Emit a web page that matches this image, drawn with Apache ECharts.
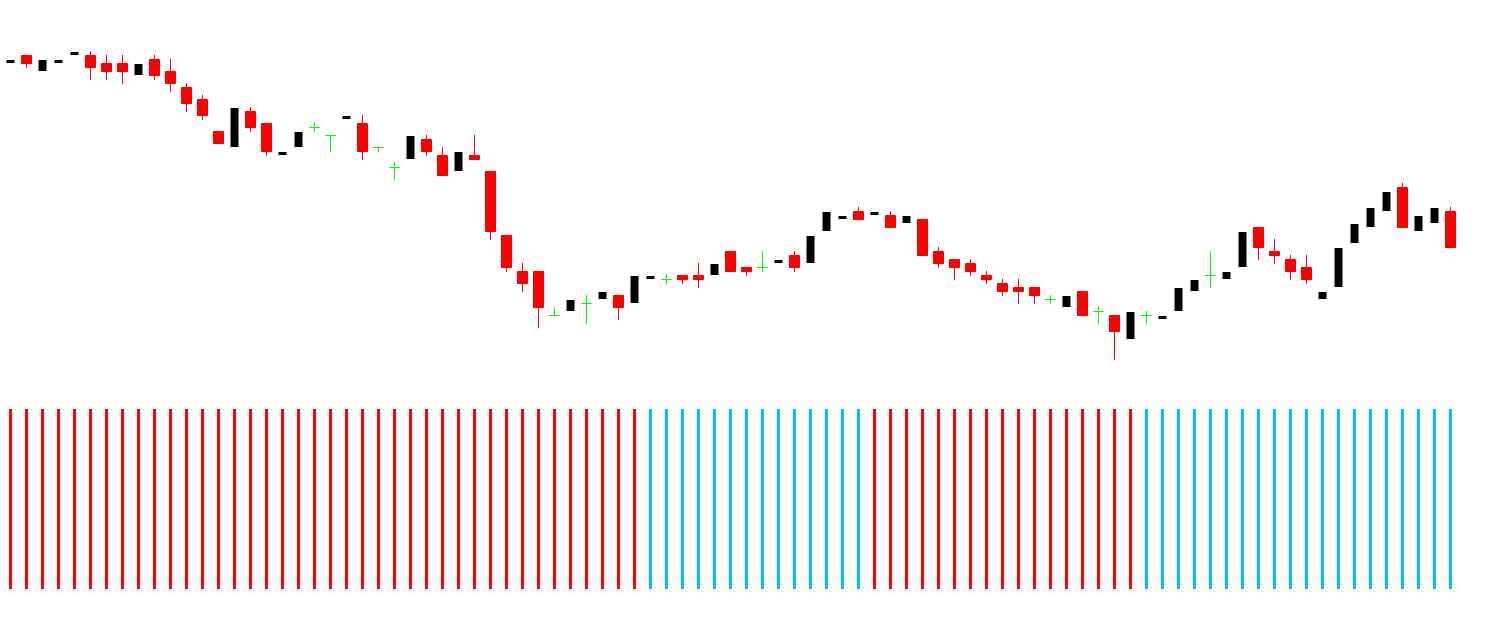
<!DOCTYPE html>
<html>
<head>
<meta charset="utf-8">
<script src="https://cdn.jsdelivr.net/npm/echarts@6/dist/echarts.min.js"></script>
<style>html,body{margin:0;padding:0;background:#fff}#c{width:1500px;height:623px}</style>
</head>
<body>
<div id="c"></div>
<script>
// Price values (arbitrary units), one entry per bar
var categories = [];
for (var k = 1; k <= 91; k++) categories.push('Bar ' + k);

var opens = [337,344.5,329,337,345,344.5,336.5,336.5,325,340.5,328.5,312.5,300.5,268.5,253,288.5,276.5,245,253,272.5,
  264.5,281,276.5,252.5,232.5,241,260.5,244.5,229,244.5,228.5,164.5,128.5,128.5,84.5,89,96.5,101,104.5,97,
  121,120.5,124.5,124.5,125,148.5,132.5,132.5,137,144.5,137,169,181,188.5,185,184.5,177,180.5,148.5,140.5,
  136.5,124.5,116.5,112.5,112.5,100.5,93,108.5,88.5,84.5,61,84.5,81,89,109,124.5,121,133,172.5,148.5,
  140.5,132.5,101,113,157,173,189,212.5,169,177,188.5];
var closes = [340,336.5,340,340,348,332.5,328.5,328.5,336,324.5,316.5,296.5,284.5,256.5,292,272.5,248.5,248,268,272.5,
  264.5,284,248.5,252.5,232.5,264,248.5,224.5,248,240.5,168.5,132.5,116.5,92.5,84.5,100,96.5,108,92.5,124,
  124,120.5,120.5,120.5,136,128.5,128.5,132.5,140,132.5,164,188,184,180.5,188,172.5,184,144.5,136.5,132.5,
  128.5,120.5,108.5,108.5,104.5,100.5,104,84.5,88.5,68.5,88,84.5,84,112,120,124.5,128,168,152.5,144.5,
  128.5,120.5,108,152,176,192,208,172.5,184,192,152.5];
var lows = [337,332,329,337,345,320,320,316,325,320,308,288,280,256,253,268,244,245,253,268,
  248,281,240,248,220,241,244,224,229,240,160,128,108,72,84,89,76,101,80,97,
  121,116,116,112,125,128,124,128,137,128,137,169,181,180,185,172,177,144,132,120,
  124,116,104,96,96,96,93,84,76,40,61,76,81,89,109,112,121,133,140,136,
  120,116,101,113,157,173,189,172,169,177,152];
var highs = [340,345,340,340,348,349,345,345,336,345,341,317,305,269,292,293,277,248,268,277,
  265,284,285,253,237,264,265,253,248,265,229,165,137,129,93,100,105,108,105,124,
  124,125,125,137,136,149,133,149,140,149,164,188,184,193,188,189,184,181,153,141,
  141,129,121,121,113,105,104,109,93,85,88,89,84,112,120,149,128,168,173,161,
  145,145,108,152,176,192,208,217,184,192,193];

// Trend signal per bar: -1 = red, 1 = blue
var trendSignal = [-1,-1,-1,-1,-1,-1,-1,-1,-1,-1,-1,-1,-1,-1,-1,-1,-1,-1,-1,-1,
  -1,-1,-1,-1,-1,-1,-1,-1,-1,-1,-1,-1,-1,-1,-1,-1,-1,-1,-1,-1,
  1,1,1,1,1,1,1,1,1,1,1,1,1,1,
  -1,-1,-1,-1,-1,-1,-1,-1,-1,-1,-1,-1,-1,-1,-1,-1,-1,
  1,1,1,1,1,1,1,1,1,1,1,1,1,1,1,1,1,1,1,1];
var signalLevel = [];
for (var k2 = 0; k2 < trendSignal.length; k2++) signalLevel.push(1);

var RED = '#FF0000', BLACK = '#000000', GREEN = '#00FF00', BLUE = '#00BFFF';

function build(kind) {
  var out = [];
  for (var i = 0; i < opens.length; i++) {
    var o = opens[i], c = closes[i];
    var cls = (o === c) ? 'doji' : (c < o ? 'down' : 'up');
    if (cls === kind) out.push([o, c, lows[i], highs[i]]);
    else out.push(['-', '-', '-', '-']);
  }
  return out;
}
function style(col, bw) {
  return {color: col, color0: col, borderColor: col, borderColor0: col, borderColorDoji: col, borderWidth: bw};
}

var chart = echarts.init(document.getElementById('c'), null, {renderer: 'canvas'});
chart.setOption({
  animation: false,
  backgroundColor: '#ffffff',
  grid: [
    {left: 2.5, right: 41.5, top: 0, height: 400},
    {left: 2.5, right: 41.5, top: 409, height: 180}
  ],
  xAxis: [
    {type: 'category', data: categories, gridIndex: 0, boundaryGap: true, show: false},
    {type: 'category', data: categories, gridIndex: 1, boundaryGap: true, show: false}
  ],
  yAxis: [
    {type: 'value', gridIndex: 0, min: 0, max: 400, show: false, splitLine: {show: false}},
    {type: 'value', gridIndex: 1, min: 0, max: 1, show: false, splitLine: {show: false}}
  ],
  series: [
    {type: 'candlestick', xAxisIndex: 0, yAxisIndex: 0, barWidth: 10, data: build('down'), itemStyle: style(RED, 1)},
    {type: 'candlestick', xAxisIndex: 0, yAxisIndex: 0, barWidth: 9, data: build('up'), itemStyle: style(BLACK, 0)},
    {type: 'candlestick', xAxisIndex: 0, yAxisIndex: 0, barWidth: 10, data: build('doji'), itemStyle: style(GREEN, 1)},
    {type: 'bar', xAxisIndex: 1, yAxisIndex: 1, barWidth: 3,
      data: signalLevel.map(function (v, i) {
        return {value: v, itemStyle: {color: trendSignal[i] < 0 ? RED : BLUE}};
      })}
  ]
});
</script>
</body>
</html>
